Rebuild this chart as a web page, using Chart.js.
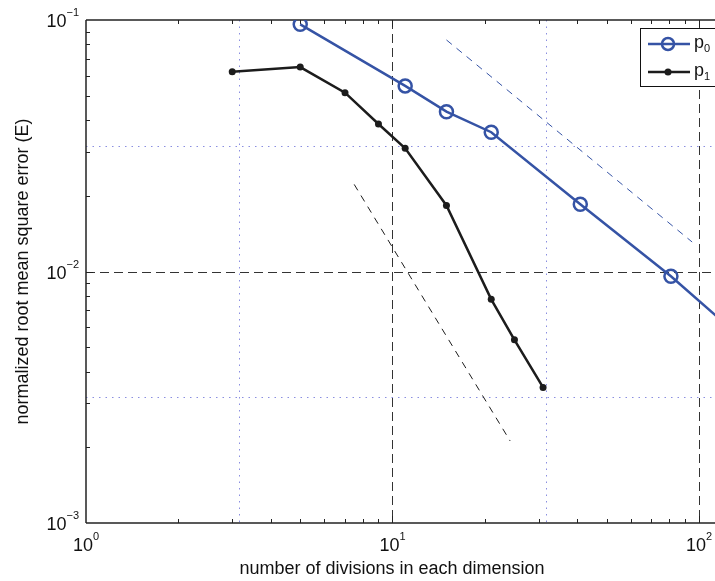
<!DOCTYPE html>
<html>
<head>
<meta charset="utf-8">
<script src="https://cdn.jsdelivr.net/npm/chart.js@4/dist/chart.umd.min.js"></script>
<style>
  html, body { margin: 0; padding: 0; background: #fff; overflow: hidden; }
</style>
</head>
<body>
<canvas id="errChart" width="715" height="581"></canvas>
<script>
// p0 (blue, open circles) and p1 (black, dots)
const p0X = [5, 11, 15, 21, 41, 81, 161];
const p0Y = [0.0961, 0.0547, 0.0432, 0.0358, 0.0185, 0.00957, 0.0046];
const p1X = [3, 5, 7, 9, 11, 15, 21, 25, 31];
const p1Y = [0.0623, 0.065, 0.0514, 0.0386, 0.0309, 0.0183, 0.00775, 0.00535, 0.00346];
// slope guide lines
const guide1X = [15, 95];
const guide1Y = [0.0833, 0.0131];
const guide2X = [7.5, 24.2];
const guide2Y = [0.0222, 0.00212];
// axes
const xTickVals = [1, 10, 100];
const xTickExp = ["0", "1", "2"];
const yTickVals = [0.1, 0.01, 0.001];
const yTickExp = ["\u22121", "\u22122", "\u22123"];
const xGridMajor = [10, 100];
const yGridMajor = [0.01];
const xGridHalf = [3.162, 31.62];
const yGridHalf = [0.03162, 0.003162];
const xTitle = "number of divisions in each dimension";
const yTitle = "normalized root mean square error (E)";
const legendNames = [["p", "0"], ["p", "1"]];

const BLUE = "#3553a5";
const BLACK = "#1c1c1c";
const FONT = "'Liberation Sans', Arial, Helvetica, sans-serif";

const pts = (xs, ys) => xs.map((x, i) => ({ x: x, y: ys[i] }));

const line = (ctx, x1, y1, x2, y2) => {
  ctx.beginPath();
  ctx.moveTo(x1, y1);
  ctx.lineTo(x2, y2);
  ctx.stroke();
};

const minorVals = (lo, hi) => {
  const out = [];
  for (let d = lo; d < hi; d *= 10) {
    for (let k = 2; k <= 9; k++) out.push(k * d);
  }
  return out;
};

const powLabel = (ctx, base, exp, x, y, align) => {
  ctx.font = "18px " + FONT;
  const wb = ctx.measureText(base).width;
  ctx.font = "11px " + FONT;
  const we = ctx.measureText(exp).width;
  let left = x;
  if (align === "center") left = x - (wb + we) / 2;
  if (align === "right") left = x - wb - we;
  ctx.textAlign = "left";
  ctx.textBaseline = "alphabetic";
  ctx.font = "18px " + FONT;
  ctx.fillText(base, left, y);
  ctx.font = "11px " + FONT;
  ctx.fillText(exp, left + wb, y - 11);
};

const framePlugin = {
  id: "framePlugin",
  beforeDatasetsDraw(chart) {
    const { ctx, chartArea: a, scales } = chart;
    const xs = scales.x, ys = scales.y;
    ctx.save();
    // half-decade dotted lines
    ctx.strokeStyle = "#8a8ee0";
    ctx.lineWidth = 1;
    ctx.setLineDash([1.5, 5]);
    xGridHalf.forEach((v) => {
      const px = Math.round(xs.getPixelForValue(v)) + 0.5;
      line(ctx, px, a.top, px, a.bottom);
    });
    yGridHalf.forEach((v) => {
      const py = Math.round(ys.getPixelForValue(v)) + 0.5;
      line(ctx, a.left, py, a.right, py);
    });
    // decade dashed lines
    ctx.strokeStyle = "#333";
    ctx.setLineDash([9, 5]);
    xGridMajor.forEach((v) => {
      const px = Math.round(xs.getPixelForValue(v)) + 0.5;
      line(ctx, px, a.top, px, a.bottom);
    });
    yGridMajor.forEach((v) => {
      const py = Math.round(ys.getPixelForValue(v)) + 0.5;
      line(ctx, a.left, py, a.right, py);
    });
    ctx.setLineDash([]);

    // axes box (left, bottom, top) and inward ticks
    ctx.strokeStyle = "#222";
    ctx.lineWidth = 1.5;
    line(ctx, a.left, a.top, a.right, a.top);
    line(ctx, a.left, a.top, a.left, a.bottom);
    line(ctx, a.left, a.bottom, a.right, a.bottom);
    ctx.lineWidth = 1;
    minorVals(1, 100).concat(minorVals(100, 1000)).forEach((v) => {
      if (v > xs.max) return;
      const px = Math.round(xs.getPixelForValue(v)) + 0.5;
      line(ctx, px, a.bottom, px, a.bottom - 4);
      line(ctx, px, a.top, px, a.top + 4);
    });
    xGridMajor.forEach((v) => {
      const px = Math.round(xs.getPixelForValue(v)) + 0.5;
      line(ctx, px, a.bottom, px, a.bottom - 7);
      line(ctx, px, a.top, px, a.top + 7);
    });
    minorVals(0.001, 0.1).forEach((v) => {
      const py = Math.round(ys.getPixelForValue(v)) + 0.5;
      line(ctx, a.left, py, a.left + 4, py);
    });
    yGridMajor.forEach((v) => {
      const py = Math.round(ys.getPixelForValue(v)) + 0.5;
      line(ctx, a.left, py, a.left + 7, py);
    });
    ctx.restore();
  },
  afterDatasetsDraw(chart) {
    const { ctx, chartArea: a, scales } = chart;
    const xs = scales.x, ys = scales.y;
    ctx.save();
    ctx.fillStyle = "#111";
    // tick labels
    xTickVals.forEach((v, i) => {
      powLabel(ctx, "10", xTickExp[i], xs.getPixelForValue(v), a.bottom + 28, "center");
    });
    yTickVals.forEach((v, i) => {
      powLabel(ctx, "10", yTickExp[i], 79, ys.getPixelForValue(v) + 7, "right");
    });
    // axis titles
    ctx.font = "18px " + FONT;
    ctx.textAlign = "center";
    ctx.textBaseline = "alphabetic";
    ctx.fillText(xTitle, 392, 574);
    ctx.save();
    ctx.translate(28, (a.top + a.bottom) / 2);
    ctx.rotate(-Math.PI / 2);
    ctx.fillText(yTitle, 0, 0);
    ctx.restore();

    // legend box (runs off the right edge like the original)
    const lx = 640, ly = 28;
    ctx.fillStyle = "#fff";
    ctx.fillRect(lx, ly, 120, 58);
    ctx.strokeStyle = "#111";
    ctx.lineWidth = 1;
    ctx.strokeRect(lx + 0.5, ly + 0.5, 120, 58);
    const rows = [
      { y: 44, color: BLUE, hollow: true, r: 6 },
      { y: 72, color: BLACK, hollow: false, r: 3.5 },
    ];
    rows.forEach((row, i) => {
      ctx.strokeStyle = row.color;
      ctx.lineWidth = 2.5;
      line(ctx, 648, row.y, 690, row.y);
      ctx.beginPath();
      ctx.arc(668, row.y, row.r, 0, Math.PI * 2);
      if (row.hollow) {
        ctx.stroke();
      } else {
        ctx.fillStyle = row.color;
        ctx.fill();
      }
      ctx.fillStyle = "#111";
      ctx.textAlign = "left";
      ctx.font = "18px " + FONT;
      ctx.fillText(legendNames[i][0], 694, row.y + 4);
      const w = ctx.measureText(legendNames[i][0]).width;
      ctx.font = "11px " + FONT;
      ctx.fillText(legendNames[i][1], 694 + w, row.y + 8);
    });
    ctx.restore();
  },
};

document.addEventListener("DOMContentLoaded", () => {
  const ctx = document.getElementById("errChart").getContext("2d");
  new Chart(ctx, {
    type: "line",
    data: {
      datasets: [
        {
          label: "guide p0",
          data: pts(guide1X, guide1Y),
          borderColor: BLUE,
          borderWidth: 1,
          borderDash: [7, 6],
          pointRadius: 0,
        },
        {
          label: "guide p1",
          data: pts(guide2X, guide2Y),
          borderColor: BLACK,
          borderWidth: 1,
          borderDash: [7, 6],
          pointRadius: 0,
        },
        {
          label: "p0",
          data: pts(p0X, p0Y),
          borderColor: BLUE,
          borderWidth: 2.5,
          pointStyle: "circle",
          pointRadius: 6.5,
          pointBorderWidth: 2.5,
          pointBorderColor: BLUE,
          pointBackgroundColor: "rgba(0,0,0,0)",
        },
        {
          label: "p1",
          data: pts(p1X, p1Y),
          borderColor: BLACK,
          borderWidth: 2.5,
          pointStyle: "circle",
          pointRadius: 3.5,
          pointBorderWidth: 0,
          pointBackgroundColor: BLACK,
        },
      ],
    },
    options: {
      responsive: false,
      animation: false,
      layout: { autoPadding: false, padding: { left: 86, top: 20, right: 0, bottom: 58 } },
      plugins: { legend: { display: false }, tooltip: { enabled: false } },
      scales: {
        x: { type: "logarithmic", min: 1, max: 112.8, display: false },
        y: { type: "logarithmic", min: 0.001, max: 0.1, display: false },
      },
    },
    plugins: [framePlugin],
  });
});
</script>
</body>
</html>
